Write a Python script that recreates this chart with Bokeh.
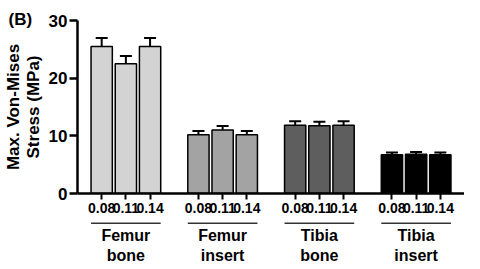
from bokeh.plotting import figure
from bokeh.models import Range1d, FixedTicker, Whisker, TeeHead, ColumnDataSource
from bokeh.layouts import column
from bokeh.embed import file_html
from bokeh.resources import INLINE
from bokeh.core.properties import value

# ---- data ----
groups = ["Femur\nbone", "Femur\ninsert", "Tibia\nbone", "Tibia\ninsert"]
sizes = ["0.08", "0.11", "0.14"]
femur_bone = [25.5, 22.5, 25.5]
femur_bone_err = [1.45, 1.35, 1.45]
femur_insert = [10.2, 11.0, 10.2]
femur_insert_err = [0.65, 0.7, 0.65]
tibia_bone = [11.85, 11.75, 11.85]
tibia_bone_err = [0.7, 0.7, 0.7]
tibia_insert = [6.7, 6.8, 6.7]
tibia_insert_err = [0.4, 0.4, 0.4]
group_colors = ["#d3d3d3", "#a3a3a3", "#5e5e5e", "#000000"]
y_ticks = [0, 10, 20, 30]

values = [femur_bone, femur_insert, tibia_bone, tibia_insert]
errors = [femur_bone_err, femur_insert_err, tibia_bone_err, tibia_insert_err]

FONT = "Liberation Sans"
BAR_W = 0.88
SLOT = len(sizes) + 1

xs, tops, uppers, cols, tick_labels = [], [], [], [], {}
for g, (vals, errs) in enumerate(zip(values, errors)):
    for i, (v, e) in enumerate(zip(vals, errs)):
        x = g * SLOT + i
        xs.append(x)
        tops.append(v)
        uppers.append(v + e)
        cols.append(group_colors[g])
        tick_labels[x] = sizes[i]

src = ColumnDataSource(dict(x=xs, top=tops, upper=uppers, color=cols))

x_range = Range1d(-1, len(groups) * SLOT - 1)

p = figure(width=464, height=219, x_range=x_range, y_range=Range1d(0, 30),
           output_backend="svg", toolbar_location=None,
           min_border_left=69, min_border_right=0, min_border_top=20,
           min_border_bottom=26, title="(B)")
p.outline_line_color = None
p.xgrid.visible = False
p.ygrid.visible = False
p.background_fill_color = "white"

p.title.align = "left"
p.title.offset = -69
p.title.vertical_align = "bottom"
p.title.standoff = -17
p.title.text_font = FONT
p.title.text_font_style = "bold"
p.title.text_font_size = "17px"
p.title.text_color = "black"

p.vbar(x="x", top="top", bottom=0, width=BAR_W, source=src,
       fill_color="color", line_color="black", line_width=1.5)

wh = Whisker(source=src, base="x", lower="top", upper="upper",
             line_color="black", line_width=2,
             upper_head=TeeHead(size=12, line_width=2, line_color="black"),
             lower_head=None)
p.add_layout(wh)

xa = p.xaxis[0]
xa.ticker = FixedTicker(ticks=xs)
xa.major_label_overrides = tick_labels
xa.axis_line_width = 2.5
xa.axis_line_color = "black"
xa.major_tick_line_width = 2
xa.major_tick_out = 6
xa.major_tick_in = 0
xa.minor_tick_out = 0
xa.minor_tick_in = 0
xa.major_label_standoff = 3
xa.major_label_text_font = FONT
xa.major_label_text_font_style = "bold"
xa.major_label_text_font_size = "14px"
xa.major_label_text_color = "black"

ya = p.yaxis[0]
ya.ticker = FixedTicker(ticks=y_ticks)
ya.axis_line_width = 2.5
ya.axis_line_color = "black"
ya.major_tick_line_width = 2.5
ya.major_tick_out = 8
ya.major_tick_in = 0
ya.minor_tick_out = 0
ya.minor_tick_in = 0
ya.major_label_standoff = 2
ya.major_label_text_font = FONT
ya.major_label_text_font_style = "bold"
ya.major_label_text_font_size = "17px"
ya.major_label_text_color = "black"
ya.axis_label = "Max. Von-Mises\nStress (MPa)"
ya.axis_label_text_font = FONT
ya.axis_label_text_font_style = "bold"
ya.axis_label_text_font_size = "17px"
ya.axis_label_text_line_height = 1.05
ya.axis_label_standoff = 3
ya.axis_label_text_color = "black"

# ---- group labels row ----
p2 = figure(width=464, height=50, x_range=x_range, y_range=Range1d(0, 50),
            output_backend="svg", toolbar_location=None,
            x_axis_location=None, y_axis_location=None,
            min_border_left=69, min_border_right=0, min_border_top=0,
            min_border_bottom=0)
p2.outline_line_color = None
p2.xgrid.visible = False
p2.ygrid.visible = False

centers = [g * SLOT + (len(sizes) - 1) / 2 for g in range(len(groups))]
x0s = [g * SLOT - BAR_W / 2 for g in range(len(groups))]
x1s = [g * SLOT + len(sizes) - 1 + BAR_W / 2 for g in range(len(groups))]
line1 = [g.split("\n")[0] for g in groups]
line2 = [g.split("\n")[1] for g in groups]

p2.segment(x0=x0s, y0=46.3, x1=x1s, y1=46.3, line_color="#333333", line_width=1.5)
p2.text(x=centers, y=34, text=line1, text_font=value(FONT), text_font_style="bold",
        text_font_size="16px", text_align="center", text_baseline="middle",
        text_color="black")
p2.text(x=centers, y=14, text=line2, text_font=value(FONT), text_font_style="bold",
        text_font_size="16px", text_align="center", text_baseline="middle",
        text_color="black")

layout = column(p, p2, spacing=0)
open("out.html", "w").write(file_html(layout, INLINE))
